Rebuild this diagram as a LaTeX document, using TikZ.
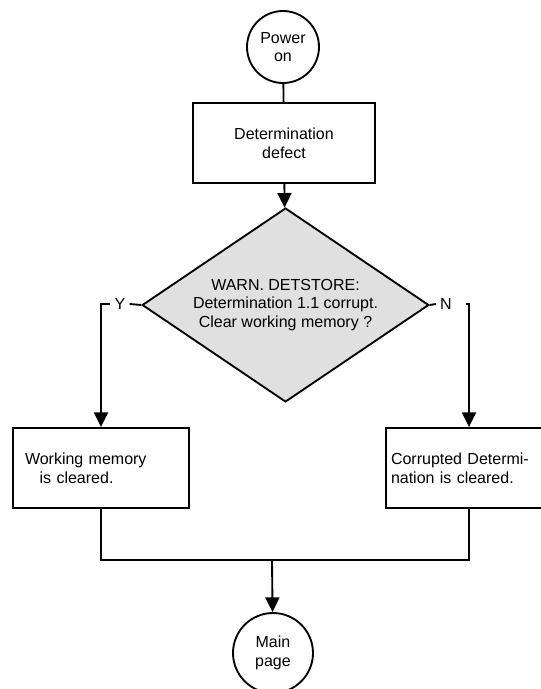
\documentclass[tikz,border=0pt]{standalone}
\usepackage{fontspec}
\setmainfont{Liberation Sans}
\usetikzlibrary{arrows.meta, shapes.geometric}
\definecolor{decisiongray}{RGB}{224,224,224}

\begin{document}
\begin{tikzpicture}[x=0.75pt, y=-0.75pt, line width=1.4pt,
    font=\fontsize{12pt}{14pt}\selectfont,
    terminal/.style={circle, draw, align=center, inner sep=0pt},
    process/.style={rectangle, draw, minimum height=60pt, inner ysep=0pt},
    decision/.style={diamond, draw, fill=decisiongray, align=center, inner sep=0pt,
      aspect=1.48, minimum width=215pt, minimum height=145.5pt},
    branch/.style={inner sep=2.5pt},
    flow/.style={-{Triangle[length=11pt, width=10.5pt]}}]
      \useasboundingbox (0,0) rectangle (541,689);
      \clip (0,0) rectangle (541,689);

      \node[terminal, minimum size=54pt] (power) at (283,47) {Power\\on};
      \node[process, minimum width=136.5pt, align=center] (defect) at (284,143) {Determination\\defect};
      \node[decision] (query) at (285.5,305) {WARN. DETSTORE:\\Determination 1.1 corrupt.\\Clear working memory ?};
      \node[branch] (ylab) at (120,304) {Y};
      \node[branch] (nlab) at (446,304) {N};
      \coordinate (nturn) at (466,304);
      \node[process, text width=114pt, inner xsep=9pt, align=left] (wmem) at (101,468)
        {Working memory\\\hspace*{11pt}is cleared.};
      \node[process, text width=117pt, inner xsep=3.75pt, align=left] (cdet) at (469,468)
        {Corrupted Determi-\\nation is cleared.};
      \coordinate (merge) at (272,560);
      \node[terminal, minimum size=60pt] (mainpg) at (273,653) {Main\\page};

      \draw (power) -- (defect);
      \draw[flow] (defect) -- (query);
      \draw (query.west) -- (ylab.east);
      \draw[flow] (ylab.west) -| (wmem.north);
      \draw (query.east) -- (nlab.west);
      \draw[flow] (nturn) -| (cdet.north);
      \draw (wmem.south) |- (merge) -| (cdet.south);
      \draw[flow] (merge) -- (mainpg);
    \end{tikzpicture}
\end{document}
